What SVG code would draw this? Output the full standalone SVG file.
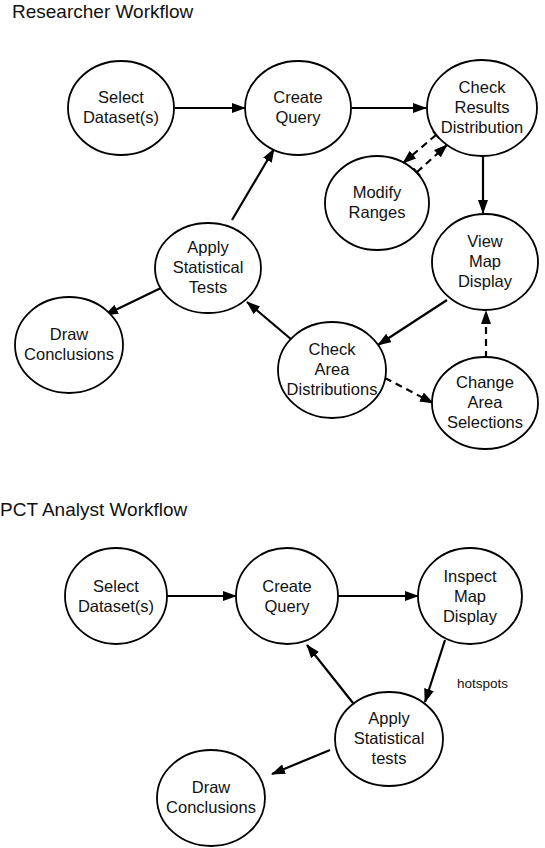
<svg xmlns="http://www.w3.org/2000/svg" width="545" height="848" viewBox="0 0 545 848">
<defs>
<marker id="ah" markerWidth="14" markerHeight="10" refX="13" refY="5" orient="auto" markerUnits="userSpaceOnUse">
<path d="M0,0 L14,5 L0,10 Z" fill="#000"/>
</marker>
<marker id="tee" markerWidth="4" markerHeight="10" refX="1" refY="5" orient="auto" markerUnits="userSpaceOnUse">
<path d="M1,0 L1,10" stroke="#000" stroke-width="1.5"/>
</marker>
<style>
.n ellipse{fill:#fff;stroke:#000;stroke-width:1.8}
.n text{font-family:"Liberation Sans",Arial,sans-serif;font-size:16.5px;fill:#111;text-anchor:middle}
.t{font-family:"Liberation Sans",Arial,sans-serif;font-size:19px;fill:#111}
.lbl{font-family:"Liberation Sans",Arial,sans-serif;font-size:13.5px;fill:#111}
.c line{stroke:#000;stroke-width:2.2;marker-end:url(#ah)}
.c line.d{stroke-dasharray:7,5}
.c line.tee{marker-start:url(#tee)}
</style>
</defs>
<rect width="545" height="848" fill="#fff"/>
<text class="t" x="12" y="18">Researcher Workflow</text>
<text class="t" x="0" y="516">PCT Analyst Workflow</text>

<g class="c" id="connectors">
<line x1="175" y1="108" x2="245" y2="108"/>
<line x1="352" y1="108" x2="426" y2="108"/>
<line x1="483" y1="157" x2="483" y2="213"/>
<line class="d tee" x1="436" y1="135" x2="403" y2="163"/>
<line class="d tee" x1="417" y1="172" x2="447" y2="145"/>
<line x1="447" y1="300" x2="378" y2="345"/>
<line class="d" x1="486" y1="358" x2="486" y2="311"/>
<line class="d" x1="385" y1="378" x2="433" y2="403"/>
<line x1="292" y1="340" x2="247" y2="302"/>
<line x1="232" y1="220" x2="274" y2="149"/>
<line x1="163" y1="287" x2="105" y2="315"/>
<line x1="167" y1="596" x2="236" y2="596"/>
<line x1="338" y1="596" x2="418" y2="596"/>
<line x1="445" y1="640" x2="425" y2="702"/>
<line x1="353" y1="703" x2="307" y2="645"/>
<line x1="330" y1="750" x2="272" y2="774"/>
</g>
<text class="lbl" x="457" y="688">hotspots</text>

<g class="n" id="r-select"><ellipse cx="121" cy="108" rx="53" ry="47"/><text x="121" y="103">Select</text><text x="121" y="123">Dataset(s)</text></g>
<g class="n" id="r-create"><ellipse cx="298" cy="108" rx="53" ry="47"/><text x="298" y="103">Create</text><text x="298" y="123">Query</text></g>
<g class="n" id="r-checkres"><ellipse cx="482" cy="108" rx="55" ry="48"/><text x="482" y="93">Check</text><text x="482" y="113">Results</text><text x="482" y="133">Distribution</text></g>
<g class="n" id="r-modify"><ellipse cx="377" cy="203" rx="52" ry="47"/><text x="377" y="198">Modify</text><text x="377" y="218">Ranges</text></g>
<g class="n" id="r-viewmap"><ellipse cx="485" cy="262" rx="53" ry="48"/><text x="485" y="247">View</text><text x="485" y="267">Map</text><text x="485" y="287">Display</text></g>
<g class="n" id="r-checkarea"><ellipse cx="332" cy="370" rx="54" ry="48"/><text x="332" y="355">Check</text><text x="332" y="375">Area</text><text x="332" y="395">Distributions</text></g>
<g class="n" id="r-change"><ellipse cx="485" cy="403" rx="53" ry="46"/><text x="485" y="388">Change</text><text x="485" y="408">Area</text><text x="485" y="428">Selections</text></g>
<g class="n" id="r-apply"><ellipse cx="208" cy="268" rx="53" ry="45"/><text x="208" y="253">Apply</text><text x="208" y="273">Statistical</text><text x="208" y="293">Tests</text></g>
<g class="n" id="r-draw"><ellipse cx="69" cy="345" rx="54" ry="48"/><text x="69" y="340">Draw</text><text x="69" y="360">Conclusions</text></g>

<g class="n" id="p-select"><ellipse cx="116" cy="596" rx="51" ry="48"/><text x="116" y="592">Select</text><text x="116" y="612">Dataset(s)</text></g>
<g class="n" id="p-create"><ellipse cx="287" cy="596" rx="51" ry="48"/><text x="287" y="592">Create</text><text x="287" y="612">Query</text></g>
<g class="n" id="p-inspect"><ellipse cx="470" cy="596" rx="52" ry="48"/><text x="470" y="582">Inspect</text><text x="470" y="602">Map</text><text x="470" y="622">Display</text></g>
<g class="n" id="p-apply"><ellipse cx="389" cy="739" rx="54" ry="47"/><text x="389" y="724">Apply</text><text x="389" y="744">Statistical</text><text x="389" y="764">tests</text></g>
<g class="n" id="p-draw"><ellipse cx="211" cy="798" rx="54" ry="48"/><text x="211" y="793">Draw</text><text x="211" y="813">Conclusions</text></g>
</svg>
